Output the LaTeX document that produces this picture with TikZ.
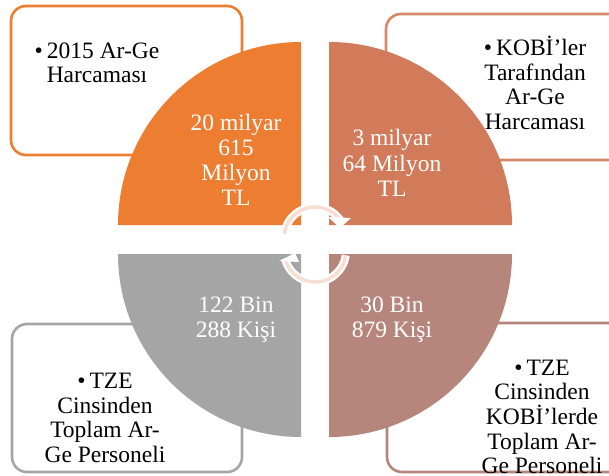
\documentclass[tikz,border=0pt]{standalone}
\usepackage{fontspec}
\setmainfont{Liberation Serif}
\usetikzlibrary{positioning,calc,arrows}
\definecolor{qorange}{HTML}{ED7D31}
\definecolor{qterra}{HTML}{D17B5A}
\definecolor{qrose}{HTML}{B6857C}
\definecolor{qgray}{HTML}{A5A5A5}
\definecolor{qpale}{HTML}{F8DDD2}
\tikzset{roundbox/.style={draw,line width=2.6pt,rounded corners=15pt,fill=white}}
\tikzset{quarter/.style={draw=none}}
\tikzset{boxtext/.style={align=center,text=black,inner sep=0pt,font=\fontsize{23.5}{24.6}\selectfont}}
\tikzset{pietext/.style={align=center,text=white,inner sep=0pt,font=\fontsize{23.5}{25.2}\selectfont}}
\tikzset{ringback/.style={white,line width=8pt}}
\tikzset{ringfront/.style={qpale,line width=3.4pt}}
\newcommand{\bul}{\textbullet\hspace{4pt}}

\begin{document}
\begin{tikzpicture}[x=1pt,y=1pt]
  % pixel coordinates of the reference, y measured from the bottom
  \clip (0,0) rectangle (609,475);
  \fill[white] (0,0) rectangle (609,475);

  \def\rr{183};

  \draw[roundbox,draw=qorange] (11,320) rectangle (242,469);
  \draw[roundbox,draw=qterra!90!white] (386,315) rectangle (630,461);
  \draw[roundbox,draw=qgray] (12,3) rectangle (242,151);
  \draw[roundbox,draw=qrose] (387,3) rectangle (630,152);

  \fill[quarter,qorange] (301,250) -- ++(-\rr,0) arc (180:90:\rr) -- cycle;
  \fill[quarter,qterra] (329,250) -- ++(0,\rr) arc (90:0:\rr) -- cycle;
  \fill[quarter,qgray] (301,221) -- ++(0,-\rr) arc (270:180:\rr) -- cycle;
  \fill[quarter,qrose] (329,221) -- ++(\rr,0) arc (0:-90:\rr) -- cycle;

  % the two round arrows in the middle
  \foreach \cy/\a/\b/\ux/\uy/\vx/\vy/\wx/\wy in {237/172/31/351/257/328/258/340/247, 224/-8/-166/279/214/295/222/299/213}
  {
    \draw[ringback] ($(315,\cy)+(\a:31)$) arc (\a:\b:31);
    \draw[ringfront] ($(315,\cy)+(\a:31)$) arc (\a:\b:31);
    \fill[white] (\ux,\uy) -- (\vx,\vy) -- (\wx,\wy) -- cycle;
  }

  \node[pietext] (orangeval) at (236,315) {20 milyar\\615\\Milyon\\TL};
  \node[pietext] (terraval) at (392,312) {3 milyar\\64 Milyon\\TL};
  \node[pietext] (grayval) at (236,155) {122 Bin\\288 Kişi};
  \node[pietext] (roseval) at (392,155) {30 Bin\\879 Kişi};

  \node[boxtext] (orangetxt) at (97,412) {\bul 2015 Ar-Ge\\Harcaması};
  \node[boxtext] (terratxt) at (535,392) {\bul KOBİ’ler\\Tarafından\\Ar-Ge\\Harcaması};
  \node[boxtext] (graytxt) at (105,57) {\bul TZE\\Cinsinden\\Toplam Ar-\\Ge Personeli};
  \node[boxtext] (rosetxt) at (542,58) {\bul TZE\\Cinsinden\\KOBİ’lerde\\Toplam Ar-\\Ge Personeli};
\end{tikzpicture}
\end{document}
